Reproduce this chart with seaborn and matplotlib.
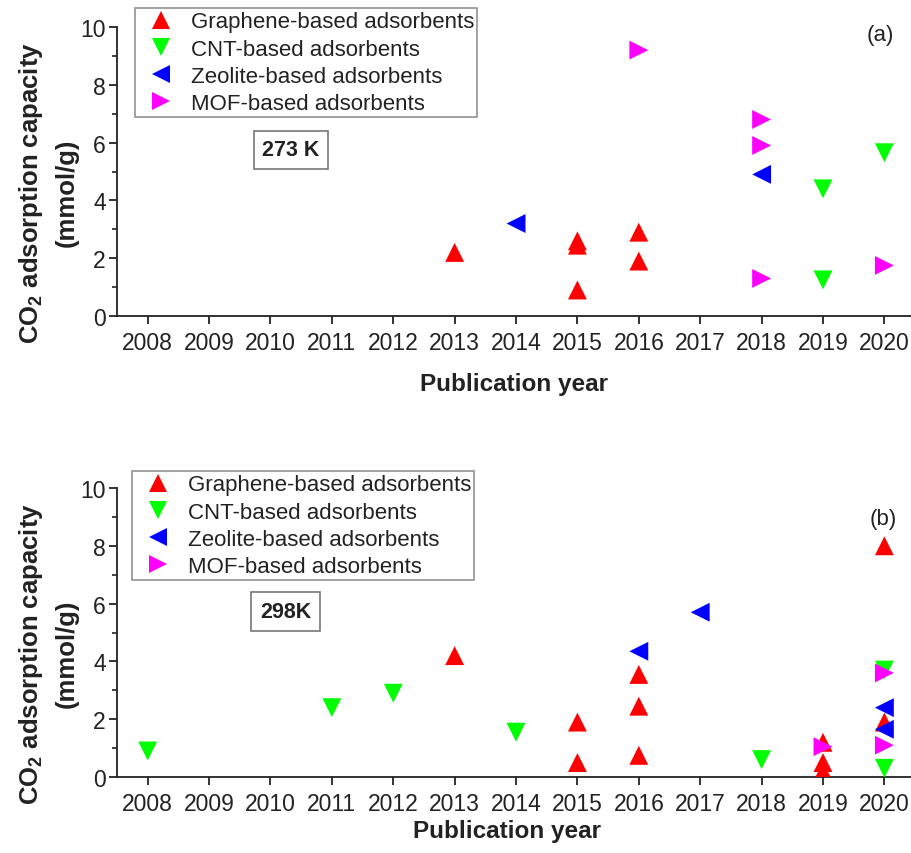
import matplotlib
matplotlib.use("Agg")
import matplotlib.pyplot as plt
import seaborn as sns
import pandas as pd
from matplotlib.ticker import MultipleLocator

# ---------------- data ----------------
categories = ["Graphene-based adsorbents", "CNT-based adsorbents",
              "Zeolite-based adsorbents", "MOF-based adsorbents"]
year_ticks = list(range(2008, 2021))

# 273 K
graphene_273_year = [2013, 2015, 2015, 2015, 2016, 2016]
graphene_273_val = [2.2, 2.6, 2.45, 0.9, 2.9, 1.9]
cnt_273_year = [2019, 2019, 2020]
cnt_273_val = [4.4, 1.25, 5.65]
zeolite_273_year = [2014, 2018]
zeolite_273_val = [3.2, 4.9]
mof_273_year = [2016, 2018, 2018, 2018, 2020]
mof_273_val = [9.2, 6.8, 5.9, 1.3, 1.75]

# 298 K
graphene_298_year = [2013, 2015, 2015, 2016, 2016, 2016, 2019, 2019, 2019, 2020, 2020]
graphene_298_val = [4.2, 1.9, 0.5, 3.55, 2.45, 0.75, 1.2, 0.5, 0.2, 8.0, 1.9]
cnt_298_year = [2008, 2011, 2012, 2014, 2018, 2020, 2020]
cnt_298_val = [0.9, 2.4, 2.9, 1.55, 0.6, 3.7, 0.3]
zeolite_298_year = [2016, 2017, 2020, 2020]
zeolite_298_val = [4.35, 5.7, 2.4, 1.65]
mof_298_year = [2019, 2020, 2020]
mof_298_val = [1.05, 3.6, 1.1]

colors = ["#ff0000", "#00ff00", "#0000ff", "#ff00ff"]
markers = ["^", "v", "<", ">"]


def build_df(series):
    rows = []
    for cat, (yrs, vals) in zip(categories, series):
        for y, v in zip(yrs, vals):
            rows.append({"Year": y, "Capacity": v, "Type": cat})
    return pd.DataFrame(rows)


df273 = build_df([(graphene_273_year, graphene_273_val), (cnt_273_year, cnt_273_val),
                  (zeolite_273_year, zeolite_273_val), (mof_273_year, mof_273_val)])
df298 = build_df([(graphene_298_year, graphene_298_val), (cnt_298_year, cnt_298_val),
                  (zeolite_298_year, zeolite_298_val), (mof_298_year, mof_298_val)])

# ---------------- style ----------------
sns.set_theme(style="ticks")
plt.rcParams["font.family"] = ["Liberation Sans", "DejaVu Sans"]
plt.rcParams["mathtext.fontset"] = "custom"
plt.rcParams["mathtext.rm"] = "Liberation Sans"
plt.rcParams["mathtext.bf"] = "Liberation Sans:bold"

W, H = 912, 854
fig = plt.figure(figsize=(W / 100, H / 100), dpi=100)
ax1 = fig.add_axes([117 / W, 1 - 317 / H, (W - 117) / W, 289 / H])
ax2 = fig.add_axes([117 / W, 1 - 778 / H, (W - 117) / W, 289 / H])

palette = dict(zip(categories, colors))
mk = dict(zip(categories, markers))

text_col = "#222222"

for ax, df, legend_xy, tag, tag_xy, temp, temp_xy, xl_y, xl_x in [
    (ax1, df273, (135, 9), "(a)", (880, 35), "273 K", (291, 151), -0.235, 0.50),
    (ax2, df298, (132, 472), "(b)", (883, 519), "298K", (285.5, 612.5), -0.186, 0.49),
]:
    sns.scatterplot(data=df, x="Year", y="Capacity", hue="Type", style="Type",
                    hue_order=categories, style_order=categories,
                    palette=palette, markers=mk, s=185, linewidth=0,
                    ax=ax, legend=True, zorder=3)
    old = ax.get_legend()
    handles = old.legend_handles
    labels = [t.get_text() for t in old.get_texts()]
    old.remove()
    for h in handles:
        try:
            h.set_markersize(13)
            h.set_markeredgewidth(0)
        except Exception:
            pass
    leg = fig.legend(handles, labels, loc="upper left",
                     bbox_to_anchor=(legend_xy[0] / W, 1 - legend_xy[1] / H),
                     bbox_transform=fig.transFigure,
                     frameon=True, fancybox=False, shadow=False,
                     fontsize=16, labelspacing=0.28, borderpad=0.15,
                     handlelength=2.0, handletextpad=0.35, borderaxespad=0)
    leg.get_frame().set_edgecolor("#777777")
    leg.get_frame().set_linewidth(1.2)
    for t in leg.get_texts():
        t.set_color(text_col)

    ax.set_xlim(2007.5, 2020.45)
    ax.set_ylim(0, 10)
    ax.set_xticks(year_ticks)
    ax.set_xticklabels([str(y) for y in year_ticks])
    ax.yaxis.set_major_locator(MultipleLocator(2))
    ax.yaxis.set_minor_locator(MultipleLocator(1))
    ax.tick_params(axis="both", which="major", direction="out", length=6,
                   width=1.3, color="#222222", labelsize=16.5, labelcolor=text_col)
    ax.tick_params(axis="x", pad=5)
    ax.tick_params(axis="y", pad=2)
    ax.tick_params(axis="y", which="minor", direction="out", length=3.5, width=1.2,
                   color="#222222")
    for sp in ["top", "right"]:
        ax.spines[sp].set_visible(False)
    for sp in ["left", "bottom"]:
        ax.spines[sp].set_linewidth(1.3)
        ax.spines[sp].set_color("#222222")

    ax.set_xlabel("Publication year", fontsize=17.5, fontweight="bold",
                  color=text_col, va="center")
    ax.xaxis.set_label_coords(xl_x, xl_y)
    ax.set_ylabel(r"$\mathbf{CO_2}$ adsorption capacity" + "\n(mmol/g)",
                  fontsize=18.5, fontweight="bold", color=text_col,
                  va="center", linespacing=1.5)
    ax.yaxis.set_label_coords(-0.087, 0.43)

    fig.text(tag_xy[0] / W, 1 - tag_xy[1] / H, tag, fontsize=16,
             ha="center", va="center", color=text_col)
    fig.text(temp_xy[0] / W, 1 - temp_xy[1] / H, temp, fontsize=15.5,
             fontweight="bold", ha="center", va="center", color=text_col,
             bbox=dict(boxstyle="square,pad=0.4", fc="white", ec="#777777", lw=1.2))

fig.savefig("out.png", dpi=100, facecolor="white")
